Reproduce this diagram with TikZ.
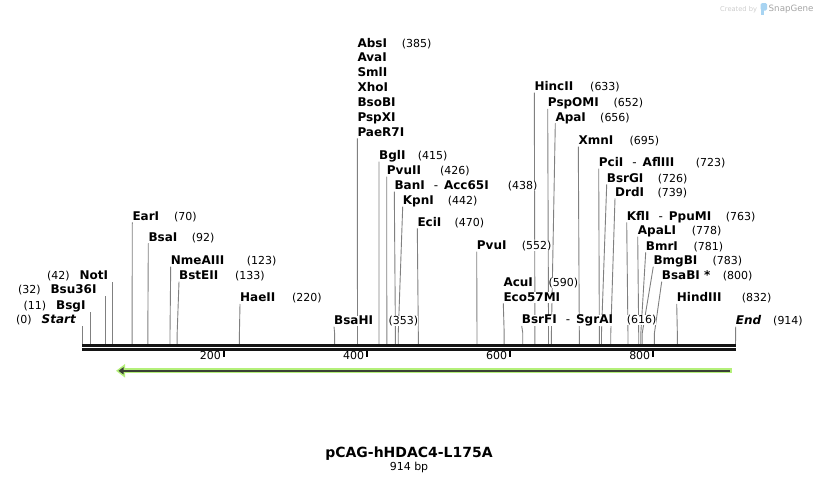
\documentclass[tikz,border=0pt]{standalone}
\usepackage{fontspec}
\setmainfont{DejaVu Sans}
\usetikzlibrary{positioning, arrows.meta}

\definecolor{linegray}{RGB}{128,128,128}
\definecolor{featgreen}{RGB}{180,240,122}
\definecolor{featdark}{RGB}{58,64,52}
\definecolor{markgray}{RGB}{205,205,205}
\definecolor{logoblue}{RGB}{168,212,242}
\newcommand{\cutdash}{\hspace{9pt}\textmd{-}\hspace{6pt}}
\pgfdeclarelayer{lines}
\pgfsetlayers{lines,main}

\begin{document}
\begin{tikzpicture}[x=1pt, y=-1pt,
    enzR/.style={anchor=base west, inner sep=0pt, fill=white, text depth=2pt, font=\bfseries\fontsize{12}{14}\selectfont},
    enzL/.style={enzR, anchor=base east},
    cutpos/.style={anchor=base west, inner sep=0pt, fill=white, font=\fontsize{11}{13}\selectfont},
    site/.style={draw=linegray, line width=0.9pt},
    backbone/.style={draw=black!92, line width=2.7pt},
    ticklab/.style={anchor=base east, inner sep=0pt, font=\fontsize{11}{13}\selectfont}]
        \useasboundingbox (0,0) rectangle (818,483);

        % Backbone and ruler
        \draw[backbone] (82,345.3) -- (735.5,345.3);
        \draw[backbone] (82,349.4) -- (735.5,349.4);
        \foreach \t in {200,400,600,800} {
                \draw[black, line width=1.6pt] ({80.8+0.71554*\t},350.5) -- ++(0,6.3);
                \node[ticklab] (tk\t) at ({78+0.71554*\t},359.8) {\t};
        }

        % Feature arrow
        \draw[featgreen, line width=5pt, -{Triangle[length=9pt, width=13pt]}] (731.7,370.8) -- (116,370.8);
        \draw[featdark, line width=1.8pt, -{Triangle[length=5pt, width=7pt]}] (730,370.8) -- (118.5,370.8);

        % Cut sites labelled on the right
        \foreach \tg/\lx/\ly/\txt/\nx/\bp in {
                EarI/132.3/215.7/EarI/174/70,
                BsaI/148.3/236.7/BsaI/191.7/92,
                NmeAIII/170.7/260/NmeAIII/246.7/123,
                BstEII/179/275/BstEII/235/133,
                HaeII/240/297.3/HaeII/292/220,
                BsaHI/334/320/BsaHI/388.3/353,
                BglI/379/155/BglI/417.7/415,
                PvuII/386.7/170/PvuII/440/426,
                BanI/394.3/185/{BanI\cutdash Acc65I}/507.7/438,
                KpnI/402.7/200/KpnI/447.7/442,
                EciI/417.3/221.7/EciI/454.3/470,
                PvuI/476.7/245/PvuI/521.7/552,
                BsrFI/521.7/319.3/{BsrFI\cutdash SgrAI}/626.7/616,
                HincII/534.3/86/HincII/590/633,
                PspOMI/547.7/102.3/PspOMI/613.3/652,
                ApaI/555.3/116.7/ApaI/600/656,
                XmnI/578.3/140/XmnI/629.3/695,
                PciI/598.7/162/{PciI\cutdash AflIII}/695.7/723,
                BsrGI/606.7/177.7/BsrGI/657.7/726,
                DrdI/615/191.7/DrdI/657.3/739,
                KflI/626.7/215.7/{KflI\cutdash PpuMI}/725.7/763,
                ApaLI/637.7/230/ApaLI/691.7/778,
                BmrI/645.7/245.7/BmrI/693.3/781,
                BmgBI/653.3/260/BmgBI/712.3/783,
                BsaBI/661.7/275/BsaBI */722.7/800,
                HindIII/676.7/297.3/HindIII/741.7/832} {
                \coordinate (s\tg) at ({82+0.71554*\bp},344);
                \node[enzR] (\tg) at (\lx,\ly+4.4) {\txt};
                \node[cutpos] (\tg n) at (\nx,\ly+4.4) {(\bp)};
                \begin{pgfonlayer}{lines}
                        \draw[site] (s\tg) -- ++(0,-11) -- (\tg.south west);
                \end{pgfonlayer}
        }

        % Stacked labels at 385
        \coordinate (sAbsI) at ({82+0.71554*385},344);
        \foreach \nm [count=\k from 0] in {AbsI, AvaI, SmlI, XhoI, BsoBI, PspXI, PaeR7I} {
                \node[enzR] (\nm) at (357.3,{47.1+14.85*\k}) {\nm};
        }
        \node[cutpos] (AbsI n) at (401.7,47.1) {(385)};

        % Stacked labels at 590
        \coordinate (sAcuI) at ({82+0.71554*590},344);
        \node[enzR] (AcuI) at (503.3,286.1) {AcuI};
        \node[enzR] (Eco57MI) at (503.3,301.1) {Eco57MI};
        \node[cutpos] (AcuI n) at (548.3,286.1) {(590)};

        % Sequence end
        \coordinate (sEnd) at (735.5,344);
        \node[enzR, font=\bfseries\itshape\fontsize{12}{14}\selectfont] (End) at (735.7,324.4) {End};
        \node[cutpos] (End n) at (773,324.4) {(914)};

        \begin{pgfonlayer}{lines}
                \draw[site] (sAbsI) -- ++(0,-11) -- (PaeR7I.south west);
                \draw[site] (sAcuI) -- ++(0,-11) -- (Eco57MI.south west);
                \draw[site] (sEnd) -- (End.south west);
        \end{pgfonlayer}

        % Cut sites labelled on the left
        \foreach \tg/\rx/\ly/\txt/\bp in {
                Start/76/319.3/{\itshape Start}/0,
                BsgI/85.7/305/BsgI/11,
                Bsu36I/96.7/289.3/Bsu36I/32,
                NotI/108.3/275/NotI/42} {
                \coordinate (s\tg) at ({82.7+0.71554*\bp},344);
                \node[enzL] (\tg) at (\rx,\ly+4.4) {\txt};
                \node[cutpos, anchor=base east, base left=9.5pt of \tg] (\tg n) {(\bp)};
                \begin{pgfonlayer}{lines}
                        \draw[site] (s\tg) -- (s\tg |- \tg.south);
                \end{pgfonlayer}
        }

        % Map name
        \node[inner sep=0pt, anchor=base, font=\bfseries\fontsize{14}{16}\selectfont] (mapname) at (409,457.7) {pCAG-hHDAC4-L175A};
        \node[inner sep=0pt, anchor=base, font=\fontsize{11}{13}\selectfont] (maplen) at (409,470.7) {914 bp};

        % Watermark
        \node[inner sep=0pt, anchor=base west, text=markgray, font=\fontsize{6.7}{8}\selectfont] (createdby) at (720,11) {Created by};
        \fill[logoblue, rounded corners=1.5pt] (760.5,3) rectangle (767,10.5);
        \fill[logoblue] (760.5,5) rectangle (763.5,15);
        \node[inner sep=0pt, anchor=base west, text=markgray!80!black, font=\fontsize{8.7}{10}\selectfont] (snapgene) at (768.5,11.5) {SnapGene};
\end{tikzpicture}
\end{document}
